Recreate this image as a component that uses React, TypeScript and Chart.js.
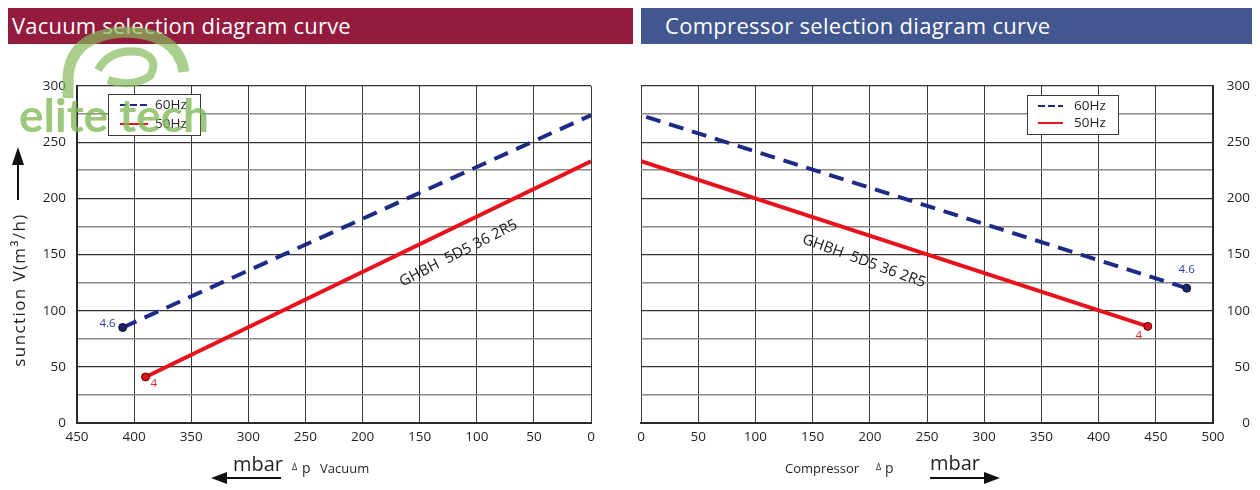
import React, { useEffect, useRef } from 'react';
import { Chart, registerables } from 'chart.js';

Chart.register(...registerables);

// ---------- data ----------
const SERIES_LABELS = ['60Hz', '50Hz'];
const END_LABELS = ['4.6', '4'];
const MODEL_NAME = 'GHBH  5D5 36 2R5';
const Y_MIN = 0;
const Y_MAX = 300;
const VAC_X_MAX = 450;
const CMP_X_MAX = 500;
const X_STEP = 50;
const Y_STEP = 25;

// vacuum chart (Δp vacuum, mbar) -> suction m³/h
const VAC_60_X = [410, 0];
const VAC_60_Y = [85, 274];
const VAC_50_X = [390, 0];
const VAC_50_Y = [41, 233];

// compressor chart (Δp compressor, mbar) -> suction m³/h
const CMP_60_X = [477, 0];
const CMP_60_Y = [120, 274];
const CMP_50_X = [443, 0];
const CMP_50_Y = [86, 233];

// ---------- styles ----------
const FONT = '"Open Sans", "Noto Sans", sans-serif';
const BLUE = '#1d2a86';
const RED = '#e8121c';
const TEXT = '#231f20';

const toPoints = (xs: number[], ys: number[]) => xs.map((x, i) => ({ x, y: ys[i] }));

const overlayPlugin = {
  id: 'overlay',
  afterDatasetsDraw(chart: any, _args: any, opts: any) {
    const ctx = chart.ctx;
    const area = chart.chartArea;
    // end point labels
    chart.data.datasets.forEach((ds: any, i: number) => {
      const pt = chart.getDatasetMeta(i).data[0];
      const l = opts.endLabels[i];
      ctx.save();
      ctx.font = `11.5px ${FONT}`;
      ctx.fillStyle = l.color;
      ctx.textAlign = l.align;
      ctx.textBaseline = 'middle';
      ctx.fillText(END_LABELS[i], pt.x + l.dx, pt.y + l.dy);
      ctx.restore();
    });
    // model name
    const m = opts.model;
    const mx = chart.scales.x.getPixelForValue(m.x);
    const my = chart.scales.y.getPixelForValue(m.y);
    ctx.save();
    ctx.translate(mx, my);
    ctx.rotate((m.angle * Math.PI) / 180);
    ctx.font = `15px ${FONT}`;
    ctx.fillStyle = '#1a1a1a';
    ctx.textAlign = 'center';
    ctx.textBaseline = 'middle';
    ctx.fillText(MODEL_NAME, 0, 0);
    ctx.restore();
    // legend box
    const L = opts.legend;
    const bx = Math.round(area.left + L.x);
    const by = Math.round(area.top + L.y);
    ctx.save();
    ctx.fillStyle = '#ffffff';
    ctx.fillRect(bx, by, L.w, L.h);
    ctx.strokeStyle = '#3a3a3a';
    ctx.lineWidth = 1;
    ctx.strokeRect(bx + 0.5, by + 0.5, L.w, L.h);
    chart.data.datasets.forEach((ds: any, i: number) => {
      const y = by + L.row0 + i * L.rowGap;
      ctx.beginPath();
      ctx.strokeStyle = ds.borderColor;
      ctx.lineWidth = 2;
      ctx.setLineDash(i === 0 ? [7, 3] : []);
      ctx.moveTo(bx + L.lx0, y);
      ctx.lineTo(bx + L.lx1, y);
      ctx.stroke();
      ctx.setLineDash([]);
      ctx.fillStyle = TEXT;
      ctx.font = `13.5px ${FONT}`;
      ctx.textAlign = 'left';
      ctx.textBaseline = 'middle';
      ctx.fillText(ds.label, bx + L.tx, y);
    });
    ctx.restore();
  },
};

function datasets(x60: number[], y60: number[], x50: number[], y50: number[]) {
  return [
    {
      label: SERIES_LABELS[0],
      data: toPoints(x60, y60),
      showLine: true,
      borderColor: BLUE,
      borderWidth: 4,
      borderDash: [15, 9],
      pointRadius: [4, 0],
      pointBackgroundColor: '#1b2470',
      pointBorderColor: '#111',
      pointBorderWidth: 1,
    },
    {
      label: SERIES_LABELS[1],
      data: toPoints(x50, y50),
      showLine: true,
      borderColor: RED,
      borderWidth: 4,
      pointRadius: [4, 0],
      pointBackgroundColor: '#e3101a',
      pointBorderColor: '#4a0a0a',
      pointBorderWidth: 1,
    },
  ];
}

function baseScales(xMax: number, reverse: boolean, yPos: 'left' | 'right', yWidth: number) {
  return {
    x: {
      type: 'linear',
      min: 0,
      max: xMax,
      reverse,
      ticks: {
        stepSize: X_STEP,
        autoSkip: false,
        maxRotation: 0,
        padding: 6,
        color: TEXT,
        font: { family: FONT, size: 13.5 },
      },
      grid: { color: '#3a3a3a', lineWidth: 1, drawTicks: false },
      border: { color: '#2a2a2a', width: 2 },
      afterFit: (s: any) => {
        s.height = 67;
      },
    },
    y: {
      type: 'linear',
      position: yPos,
      min: Y_MIN,
      max: Y_MAX,
      ticks: {
        stepSize: Y_STEP,
        padding: 11,
        crossAlign: yPos === 'left' ? 'near' : 'far',
        color: TEXT,
        font: { family: FONT, size: 13.5 },
        callback: (v: any) => (Number(v) % 50 === 0 ? String(v) : ''),
      },
      grid: {
        drawTicks: false,
        color: (c: any) => (c.tick && c.tick.value % 50 === 0 ? '#333333' : '#8a8a8a'),
        lineWidth: (c: any) => (c.tick && c.tick.value % 50 === 0 ? 1.2 : 1.6),
      },
      border: { color: '#2a2a2a', width: 2 },
      afterFit: (s: any) => {
        s.width = yWidth;
      },
    },
  };
}

function ChartCanvas({ config, left }: { config: any; left: number }) {
  const ref = useRef<HTMLCanvasElement | null>(null);
  useEffect(() => {
    if (!ref.current) return;
    const chart = new Chart(ref.current, config);
    return () => chart.destroy();
  }, []);
  return (
    <canvas
      ref={ref}
      width={630}
      height={430}
      style={{ position: 'absolute', left, top: 60, width: 630, height: 430 }}
    />
  );
}

const vacuumConfig = {
  type: 'scatter',
  data: { datasets: datasets(VAC_60_X, VAC_60_Y, VAC_50_X, VAC_50_Y) },
  plugins: [overlayPlugin],
  options: {
    animation: false,
    responsive: false,
    maintainAspectRatio: false,
    layout: { padding: { top: 26, right: 39, left: 0, bottom: 0 } },
    plugins: {
      legend: { display: false },
      tooltip: { enabled: false },
      overlay: {
        endLabels: [
          { dx: -7, dy: -4, align: 'right', color: '#2b3c9e' },
          { dx: 5, dy: 7, align: 'left', color: '#e5202a' },
        ],
        model: { x: 116, y: 151, angle: -27 },
        legend: { x: 31, y: 8, w: 92, h: 41, row0: 11, rowGap: 19, lx0: 12, lx1: 40, tx: 47 },
      },
    },
    scales: baseScales(VAC_X_MAX, true, 'left', 77),
  },
};

const compressorConfig = {
  type: 'scatter',
  data: { datasets: datasets(CMP_60_X, CMP_60_Y, CMP_50_X, CMP_50_Y) },
  plugins: [overlayPlugin],
  options: {
    animation: false,
    responsive: false,
    maintainAspectRatio: false,
    layout: { padding: { top: 26, right: 10, left: 11, bottom: 0 } },
    plugins: {
      legend: { display: false },
      tooltip: { enabled: false },
      overlay: {
        endLabels: [
          { dx: 0, dy: -18, align: 'center', color: '#2b3c9e' },
          { dx: -9, dy: 9, align: 'center', color: '#e5202a' },
        ],
        model: { x: 195, y: 144, angle: 20 },
        legend: { x: 386, y: 9, w: 91, h: 39, row0: 11, rowGap: 17, lx0: 11, lx1: 36, tx: 47 },
      },
    },
    scales: baseScales(CMP_X_MAX, false, 'right', 37),
  },
};

function LeftArrow({ x1, x2, y }: { x1: number; x2: number; y: number }) {
  return (
    <svg style={{ position: 'absolute', left: 0, top: 0, overflow: 'visible' }} width={1} height={1}>
      <line x1={x1 + 12} y1={y} x2={x2} y2={y} stroke="#111" strokeWidth={2.2} />
      <polygon points={`${x1},${y} ${x1 + 16},${y - 6} ${x1 + 16},${y + 6}`} fill="#111" />
    </svg>
  );
}

function RightArrow({ x1, x2, y }: { x1: number; x2: number; y: number }) {
  return (
    <svg style={{ position: 'absolute', left: 0, top: 0, overflow: 'visible' }} width={1} height={1}>
      <line x1={x1} y1={y} x2={x2 - 12} y2={y} stroke="#111" strokeWidth={2.2} />
      <polygon points={`${x2},${y} ${x2 - 16},${y - 6} ${x2 - 16},${y + 6}`} fill="#111" />
    </svg>
  );
}

export default function App() {
  const abs = (l: number, t: number, extra: any = {}) => ({
    position: 'absolute' as const,
    left: l,
    top: t,
    whiteSpace: 'nowrap' as const,
    fontFamily: FONT,
    color: TEXT,
    lineHeight: 1,
    ...extra,
  });
  return (
    <div style={{ position: 'absolute', left: 0, top: 0, width: 1260, height: 490, background: '#fff', overflow: 'hidden' }}>
      {/* title bars */}
      <div style={abs(8, 8, { width: 625, height: 36, background: '#941b3e' })} />
      <div style={abs(12, 14, { color: '#fff', fontSize: 22, letterSpacing: 0.2 })}>Vacuum selection diagram curve</div>
      <div style={abs(641, 8, { width: 611, height: 36, background: '#42578f' })} />
      <div style={abs(665, 14, { color: '#fff', fontSize: 22, letterSpacing: 0.3 })}>Compressor selection diagram curve</div>

      <ChartCanvas config={vacuumConfig} left={0} />
      <ChartCanvas config={compressorConfig} left={630} />

      {/* y axis title */}
      <div style={abs(18, 290, { fontSize: 17, letterSpacing: 1.4, transform: 'translate(-50%, -50%) rotate(-90deg)' })}>
        sunction V(m³/h)
      </div>
      <svg style={{ position: 'absolute', left: 0, top: 0, overflow: 'visible' }} width={1} height={1}>
        <line x1={18} y1={200} x2={18} y2={160} stroke="#111" strokeWidth={2} />
        <polygon points="18,147 12,165 24,165" fill="#111" />
      </svg>

      {/* bottom left axis title */}
      <div style={abs(233, 454, { fontSize: 20 })}>mbar</div>
      <LeftArrow x1={211} x2={281} y={478} />
      <div style={abs(292, 462, { fontSize: 9 })}>Δ</div>
      <div style={abs(302, 461, { fontSize: 14 })}>p</div>
      <div style={abs(320, 462, { fontSize: 13 })}>Vacuum</div>

      {/* bottom right axis title */}
      <div style={abs(785, 462, { fontSize: 13 })}>Compressor</div>
      <div style={abs(876, 462, { fontSize: 9 })}>Δ</div>
      <div style={abs(885, 461, { fontSize: 14 })}>p</div>
      <div style={abs(930, 453, { fontSize: 20 })}>mbar</div>
      <RightArrow x1={930} x2={1000} y={478} />

      {/* watermark */}
      <svg style={{ position: 'absolute', left: 0, top: 0, overflow: 'visible', opacity: 0.7, pointerEvents: 'none' }} width={1} height={1}>
        <path d="M 68 98 L 68 78 Q 70 36 122 32 Q 178 32 184 72" fill="none" stroke="#86bb5c" strokeWidth={11} />
        <path d="M 98 70 Q 110 48 140 52 Q 160 58 150 76 Q 132 88 108 80" fill="none" stroke="#86bb5c" strokeWidth={8} />
      </svg>
      <div
        style={abs(19, 92, {
          fontSize: 46,
          fontWeight: 700,
          color: 'rgba(128,184,86,0.78)',
          letterSpacing: 0,
          fontFamily: '"Lato", "Open Sans", sans-serif',
          pointerEvents: 'none',
        })}
      >
        elite tech
      </div>
    </div>
  );
}
